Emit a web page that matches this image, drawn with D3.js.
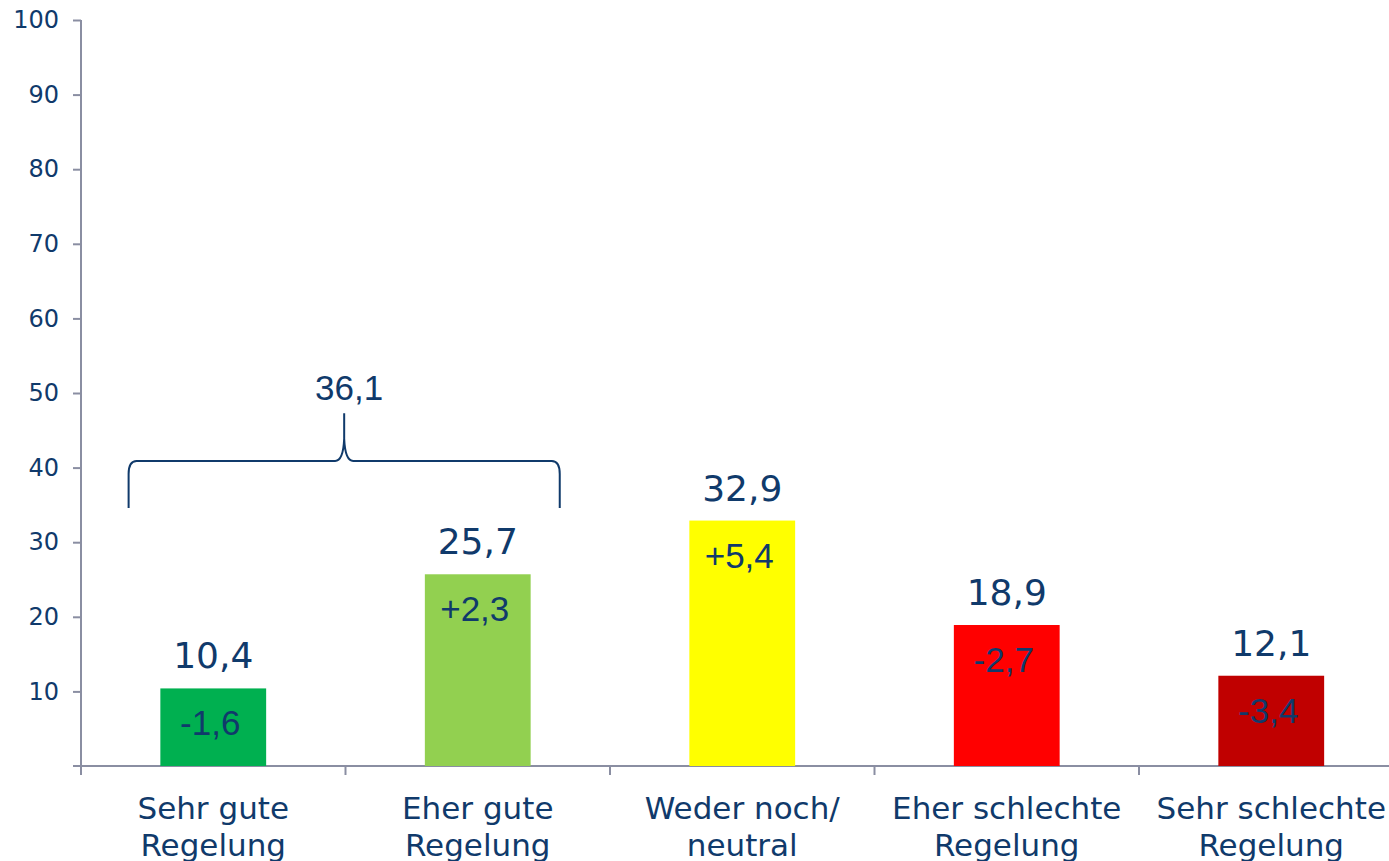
<!DOCTYPE html>
<html>
<head>
<meta charset="utf-8">
<script src="https://cdn.jsdelivr.net/npm/d3@7"></script>
<style>
  html, body { margin: 0; padding: 0; background: #ffffff; }
  svg { display: block; }
</style>
</head>
<body>
<svg id="chart" width="1389" height="861"></svg>
<script>
// ---- data ----
const categories = ["Sehr gute Regelung", "Eher gute Regelung", "Weder noch/ neutral", "Eher schlechte Regelung", "Sehr schlechte Regelung"];
const categoryLines = [["Sehr gute", "Regelung"], ["Eher gute", "Regelung"], ["Weder noch/", "neutral"], ["Eher schlechte", "Regelung"], ["Sehr schlechte", "Regelung"]];
const values = [10.4, 25.7, 32.9, 18.9, 12.1];
const changes = [-1.6, 2.3, 5.4, -2.7, -3.4];
const barColors = ["#00b050", "#92d050", "#ffff00", "#ff0000", "#c00000"];
const yTicks = [10, 20, 30, 40, 50, 60, 70, 80, 90, 100];
const groupIdx = [0, 1];

// ---- styles ----
const textColor = "#103a6b";
const axisColor = "#8a8ea2";
const fmt = v => Math.abs(v).toFixed(1).replace(".", ",");
const fmtSigned = v => (v > 0 ? "+" : v < 0 ? "-" : "") + fmt(v);

const svg = d3.select("#chart");
const x0 = 81, yTop = 20, yBottom = 766;
const step = 264.5;

const y = d3.scaleLinear().domain([0, 100]).range([yBottom, yTop]);
const x = d3.scaleBand().domain(categories)
  .range([x0, x0 + step * categories.length])
  .paddingInner(0.6).paddingOuter(0.3);

// y axis
const yAxis = svg.append("g").attr("transform", `translate(${x0},0)`)
  .call(d3.axisLeft(y).tickValues(yTicks).tickSize(8).tickPadding(14).tickFormat(d3.format("d")));
yAxis.select(".domain").remove();
yAxis.selectAll(".tick line").attr("stroke", axisColor).attr("stroke-width", 2);
yAxis.selectAll(".tick text").attr("fill", textColor)
  .style("font-family", "'DejaVu Sans', Verdana, sans-serif").style("font-size", "24px");
// y axis line
svg.append("line").attr("x1", x0).attr("x2", x0).attr("y1", y(100)).attr("y2", yBottom + 9)
  .attr("stroke", axisColor).attr("stroke-width", 2);
// x axis line
svg.append("line").attr("x1", x0 - 8).attr("x2", 1389).attr("y1", yBottom).attr("y2", yBottom)
  .attr("stroke", axisColor).attr("stroke-width", 2);
// category boundary ticks
const bounds = d3.range(categories.length + 1).map(i => x0 + i * x.step());
svg.append("g").selectAll("line").data(bounds).join("line")
  .attr("x1", d => d).attr("x2", d => d).attr("y1", yBottom).attr("y2", yBottom + 9)
  .attr("stroke", axisColor).attr("stroke-width", 2);

// bars
svg.append("g").selectAll("rect").data(values).join("rect")
  .attr("x", (d, i) => x(categories[i]))
  .attr("y", d => y(d))
  .attr("width", x.bandwidth())
  .attr("height", d => yBottom - y(d))
  .attr("fill", (d, i) => barColors[i]);

// value labels
svg.append("g").selectAll("text").data(values).join("text")
  .attr("x", (d, i) => x(categories[i]) + x.bandwidth() / 2)
  .attr("y", d => y(d) - 20)
  .attr("text-anchor", "middle")
  .attr("fill", textColor)
  .style("font-family", "'DejaVu Sans', Verdana, sans-serif").style("font-size", "36px")
  .text(d => fmt(d));

// change labels inside bars
svg.append("g").selectAll("text").data(changes).join("text")
  .attr("x", (d, i) => x(categories[i]) + x.bandwidth() / 2 - 3)
  .attr("y", (d, i) => y(values[i]) + 47)
  .attr("text-anchor", "middle")
  .attr("fill", textColor)
  .style("font-family", "'Liberation Sans', Arial, sans-serif").style("font-size", "35px")
  .text(d => fmtSigned(d));

// category labels
const catG = svg.append("g").selectAll("text").data(categoryLines).join("text")
  .attr("text-anchor", "middle")
  .attr("fill", textColor)
  .style("font-family", "'DejaVu Sans', Verdana, sans-serif").style("font-size", "31px");
catG.each(function(lines, i) {
  const cx = x(categories[i]) + x.bandwidth() / 2;
  d3.select(this).selectAll("tspan").data(lines).join("tspan")
    .attr("x", cx).attr("y", (d, j) => 819 + j * 37).text(d => d);
});

// brace over first two categories
const sum = d3.sum(groupIdx, i => values[i]);
const L = x(categories[groupIdx[0]]) + x.bandwidth() / 2 - 0.32 * step;
const R = x(categories[groupIdx[1]]) + x.bandwidth() / 2 + 0.31 * step;
const M = (L + R) / 2;
const yEnd = y(34.6), yH = y(40.9), yPeak = y(47.3);
const p = d3.path();
p.moveTo(L, yEnd);
p.lineTo(L, yH + 13);
p.quadraticCurveTo(L, yH, L + 8, yH);
p.lineTo(M - 9, yH);
p.quadraticCurveTo(M - 1, yH, M, yH - 22);
p.lineTo(M, yPeak);
p.moveTo(M, yH - 22);
p.quadraticCurveTo(M + 1, yH, M + 9, yH);
p.lineTo(R - 8, yH);
p.quadraticCurveTo(R, yH, R, yH + 13);
p.lineTo(R, yEnd);
svg.append("path").attr("d", p.toString()).attr("fill", "none")
  .attr("stroke", textColor).attr("stroke-width", 2);
svg.append("text").attr("x", M + 5).attr("y", yPeak - 13)
  .attr("text-anchor", "middle").attr("fill", textColor)
  .style("font-family", "'Liberation Sans', Arial, sans-serif").style("font-size", "35px")
  .text(fmt(sum));
</script>
</body>
</html>
